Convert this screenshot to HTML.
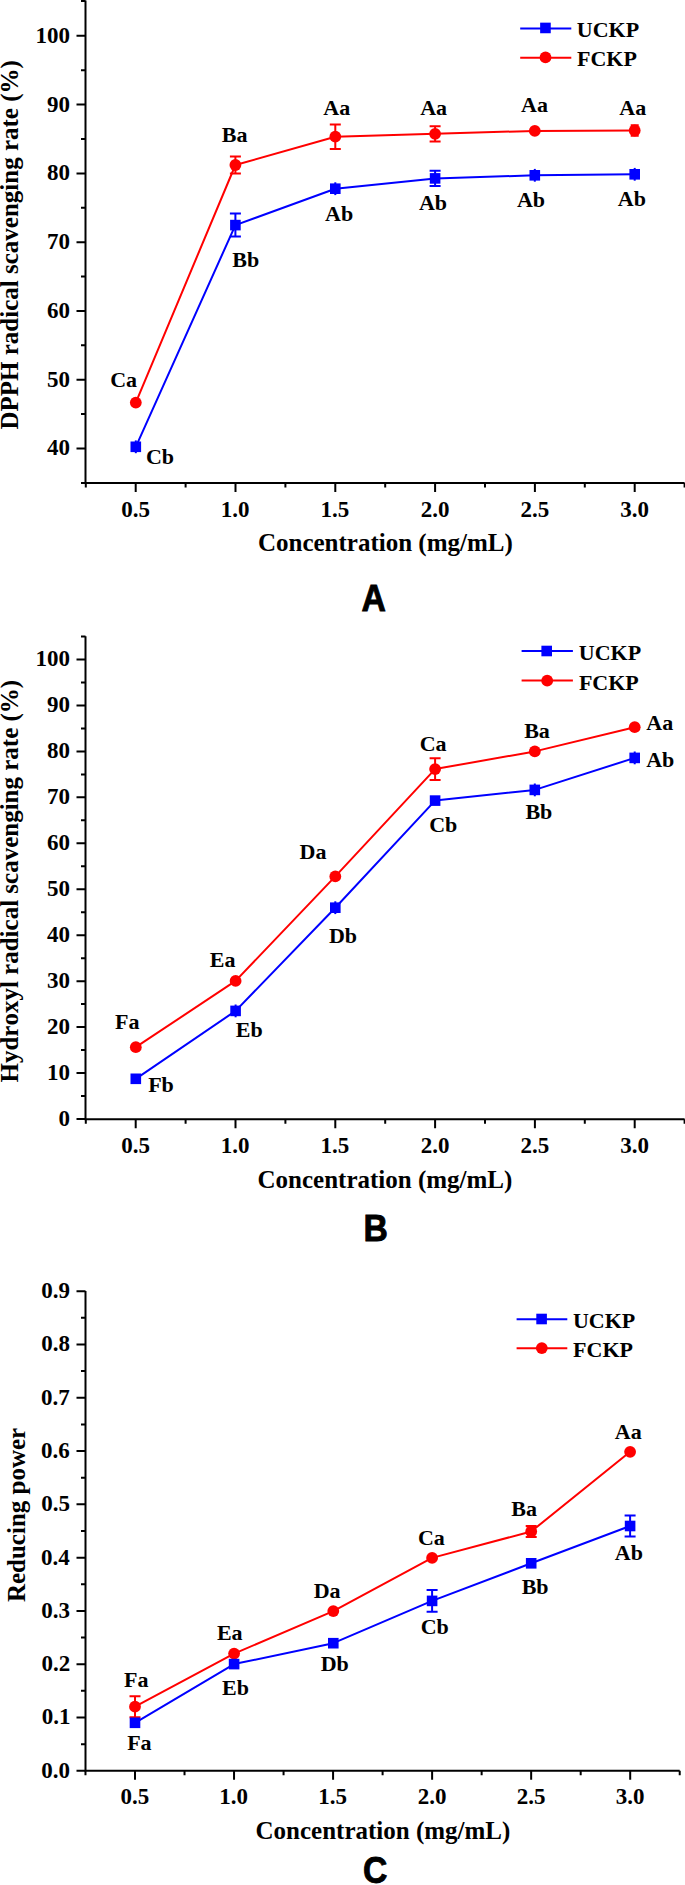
<!DOCTYPE html>
<html><head><meta charset="utf-8"><title>Antioxidant activity</title>
<style>
html,body{margin:0;padding:0;background:#fff;}
body{width:685px;height:1885px;overflow:hidden;}
svg{display:block;}
text{font-family:"Liberation Serif",serif;font-weight:bold;fill:#000;font-kerning:none;}
.tl{font-size:23px;}
.an{font-size:22px;}
.ti{font-size:25px;}
.pl{font-family:"Liberation Sans",sans-serif;font-size:37.5px;stroke:#000;stroke-width:0.9px;stroke-linejoin:miter;}
</style></head><body>
<svg width="685" height="1885" viewBox="0 0 685 1885">
<rect width="685" height="1885" fill="#fff"/>
<path d="M85.5 0.5V484M84.5 483H684.6" stroke="#000" stroke-width="2" fill="none" stroke-linecap="butt"/>
<path d="M81 482.9H85.5M76.5 448.51H85.5M81 414.12H85.5M76.5 379.73H85.5M81 345.34H85.5M76.5 310.95H85.5M81 276.56H85.5M76.5 242.17H85.5M81 207.78H85.5M76.5 173.39H85.5M81 139H85.5M76.5 104.61H85.5M81 70.22H85.5M76.5 35.83H85.5M81 1H85.5M85.8 483V487.5M135.7 483V492M185.6 483V487.5M235.5 483V492M285.4 483V487.5M335.3 483V492M385.2 483V487.5M435.1 483V492M485 483V487.5M534.9 483V492M584.8 483V487.5M634.7 483V492M684.6 483V487.5" stroke="#000" stroke-width="2" fill="none"/>
<text x="47.08" y="455.45" class="tl">40</text>
<text x="47.08" y="386.67" class="tl">50</text>
<text x="47.08" y="317.89" class="tl">60</text>
<text x="47.08" y="249.11" class="tl">70</text>
<text x="47.08" y="180.33" class="tl">80</text>
<text x="47.08" y="111.55" class="tl">90</text>
<text x="35.58" y="42.77" class="tl">100</text>
<text x="121.31" y="517.29" class="tl">0.5</text>
<text x="220.64" y="517.29" class="tl">1.0</text>
<text x="320.43" y="517.23" class="tl">1.5</text>
<text x="420.68" y="517.29" class="tl">2.0</text>
<text x="520.46" y="517.25" class="tl">2.5</text>
<text x="620.33" y="517.29" class="tl">3.0</text>
<text x="257.93" y="551.3" class="ti">Concentration (mg/mL)</text>
<text transform="translate(17.6 429.56) rotate(-90)" class="ti">DPPH radical scavenging rate (%)</text>
<polyline points="135.8,402.6 235.4,165 335.3,136.7 435.1,133.8 534.8,130.9 634.7,130.5" stroke="#ff0000" stroke-width="2" fill="none" stroke-linejoin="round"/>
<polyline points="135.8,446.8 235.4,225.1 335.3,188.7 435.1,178.4 534.8,175.3 634.7,174.3" stroke="#0000ff" stroke-width="2" fill="none" stroke-linejoin="round"/>
<circle cx="135.8" cy="402.6" r="5.9" fill="#ff0000"/>
<path d="M235.4 156.5V173.5M229.9 156.5H240.9M229.9 173.5H240.9" stroke="#ff0000" stroke-width="2" fill="none"/>
<circle cx="235.4" cy="165" r="5.9" fill="#ff0000"/>
<path d="M335.3 124.4V149M329.8 124.4H340.8M329.8 149H340.8" stroke="#ff0000" stroke-width="2" fill="none"/>
<circle cx="335.3" cy="136.7" r="5.9" fill="#ff0000"/>
<path d="M435.1 126.2V141.4M429.6 126.2H440.6M429.6 141.4H440.6" stroke="#ff0000" stroke-width="2" fill="none"/>
<circle cx="435.1" cy="133.8" r="5.9" fill="#ff0000"/>
<circle cx="534.8" cy="130.9" r="5.9" fill="#ff0000"/>
<path d="M634.7 125.3V135.7M630.7 125.3H638.7M630.7 135.7H638.7" stroke="#ff0000" stroke-width="2" fill="none"/>
<circle cx="634.7" cy="130.5" r="5.9" fill="#ff0000"/>
<path d="M135.8 440.4V453.2" stroke="#0000ff" stroke-width="2" fill="none"/>
<rect x="130.5" y="441.5" width="10.6" height="10.6" fill="#0000ff"/>
<path d="M235.4 213.6V236.6M229.9 213.6H240.9M229.9 236.6H240.9" stroke="#0000ff" stroke-width="2" fill="none"/>
<rect x="230.1" y="219.8" width="10.6" height="10.6" fill="#0000ff"/>
<path d="M335.3 182.3V195.1" stroke="#0000ff" stroke-width="2" fill="none"/>
<rect x="330" y="183.4" width="10.6" height="10.6" fill="#0000ff"/>
<path d="M435.1 170.8V186M429.6 170.8H440.6M429.6 186H440.6" stroke="#0000ff" stroke-width="2" fill="none"/>
<rect x="429.8" y="173.1" width="10.6" height="10.6" fill="#0000ff"/>
<path d="M534.8 168.9V181.7" stroke="#0000ff" stroke-width="2" fill="none"/>
<rect x="529.5" y="170" width="10.6" height="10.6" fill="#0000ff"/>
<path d="M634.7 167.9V180.7" stroke="#0000ff" stroke-width="2" fill="none"/>
<rect x="629.4" y="169" width="10.6" height="10.6" fill="#0000ff"/>
<text x="110.24" y="386.88" class="an">Ca</text>
<text x="145.9" y="463.87" class="an">Cb</text>
<text x="221.85" y="142.3" class="an">Ba</text>
<text x="232.31" y="266.82" class="an">Bb</text>
<text x="323.37" y="115.25" class="an">Aa</text>
<text x="325.08" y="221.32" class="an">Ab</text>
<text x="420.17" y="114.65" class="an">Aa</text>
<text x="418.93" y="209.92" class="an">Ab</text>
<text x="521.07" y="112.35" class="an">Aa</text>
<text x="516.88" y="206.72" class="an">Ab</text>
<text x="619.27" y="114.65" class="an">Aa</text>
<text x="617.78" y="205.52" class="an">Ab</text>
<path d="M520.2 28.4H571.3" stroke="#0000ff" stroke-width="2"/>
<path d="M520.2 57.7H571.3" stroke="#ff0000" stroke-width="2"/>
<rect x="540.15" y="22.65" width="10.6" height="10.6" fill="#0000ff"/>
<circle cx="545.5" cy="57.4" r="5.9" fill="#ff0000"/>
<text x="576.85" y="36.93" class="an">UCKP</text>
<text x="577.02" y="66.23" class="an">FCKP</text>
<text transform="translate(373.7 611.1) scale(0.9 1)" x="-13.51" y="0" class="pl">A</text>
<path d="M85.5 636.3V1120.3M84.5 1119.3H684.6" stroke="#000" stroke-width="2" fill="none" stroke-linecap="butt"/>
<path d="M76.5 1119H85.5M81 1096.03H85.5M76.5 1073.05H85.5M81 1050.08H85.5M76.5 1027.1H85.5M81 1004.12H85.5M76.5 981.15H85.5M81 958.17H85.5M76.5 935.2H85.5M81 912.23H85.5M76.5 889.25H85.5M81 866.27H85.5M76.5 843.3H85.5M81 820.33H85.5M76.5 797.35H85.5M81 774.38H85.5M76.5 751.4H85.5M81 728.42H85.5M76.5 705.45H85.5M81 682.48H85.5M76.5 659.5H85.5M81 636.53H85.5M85.8 1119.3V1123.8M135.7 1119.3V1128.3M185.6 1119.3V1123.8M235.5 1119.3V1128.3M285.4 1119.3V1123.8M335.3 1119.3V1128.3M385.2 1119.3V1123.8M435.1 1119.3V1128.3M485 1119.3V1123.8M534.9 1119.3V1128.3M584.8 1119.3V1123.8M634.7 1119.3V1128.3M684.6 1119.3V1123.8" stroke="#000" stroke-width="2" fill="none"/>
<text x="58.58" y="1125.94" class="tl">0</text>
<text x="47.08" y="1079.99" class="tl">10</text>
<text x="47.08" y="1034.04" class="tl">20</text>
<text x="47.08" y="988.09" class="tl">30</text>
<text x="47.08" y="942.14" class="tl">40</text>
<text x="47.08" y="896.19" class="tl">50</text>
<text x="47.08" y="850.24" class="tl">60</text>
<text x="47.08" y="804.29" class="tl">70</text>
<text x="47.08" y="758.34" class="tl">80</text>
<text x="47.08" y="712.39" class="tl">90</text>
<text x="35.58" y="666.44" class="tl">100</text>
<text x="121.31" y="1153.09" class="tl">0.5</text>
<text x="220.64" y="1153.09" class="tl">1.0</text>
<text x="320.43" y="1153.03" class="tl">1.5</text>
<text x="420.68" y="1153.09" class="tl">2.0</text>
<text x="520.46" y="1153.05" class="tl">2.5</text>
<text x="620.33" y="1153.09" class="tl">3.0</text>
<text x="257.53" y="1188.3" class="ti">Concentration (mg/mL)</text>
<text transform="translate(17.8 1082.53) rotate(-90)" class="ti">Hydroxyl radical scavenging rate (%)</text>
<polyline points="135.8,1047.2 235.6,980.9 335.3,876.4 435.1,769.1 534.8,751.4 634.7,727.2" stroke="#ff0000" stroke-width="2" fill="none" stroke-linejoin="round"/>
<polyline points="135.8,1078.8 235.6,1010.9 335.3,907.7 435.1,800.6 534.8,789.9 634.7,757.9" stroke="#0000ff" stroke-width="2" fill="none" stroke-linejoin="round"/>
<circle cx="135.8" cy="1047.2" r="5.9" fill="#ff0000"/>
<circle cx="235.6" cy="980.9" r="5.9" fill="#ff0000"/>
<circle cx="335.3" cy="876.4" r="5.9" fill="#ff0000"/>
<path d="M435.1 758.2V780M429.6 758.2H440.6M429.6 780H440.6" stroke="#ff0000" stroke-width="2" fill="none"/>
<circle cx="435.1" cy="769.1" r="5.9" fill="#ff0000"/>
<circle cx="534.8" cy="751.4" r="5.9" fill="#ff0000"/>
<circle cx="634.7" cy="727.2" r="5.9" fill="#ff0000"/>
<rect x="130.5" y="1073.5" width="10.6" height="10.6" fill="#0000ff"/>
<path d="M235.6 1004.5V1017.3" stroke="#0000ff" stroke-width="2" fill="none"/>
<rect x="230.3" y="1005.6" width="10.6" height="10.6" fill="#0000ff"/>
<path d="M335.3 901.3V914.1" stroke="#0000ff" stroke-width="2" fill="none"/>
<rect x="330" y="902.4" width="10.6" height="10.6" fill="#0000ff"/>
<rect x="429.8" y="795.3" width="10.6" height="10.6" fill="#0000ff"/>
<path d="M534.8 783.5V796.3" stroke="#0000ff" stroke-width="2" fill="none"/>
<rect x="529.5" y="784.6" width="10.6" height="10.6" fill="#0000ff"/>
<path d="M634.7 751.5V764.3" stroke="#0000ff" stroke-width="2" fill="none"/>
<rect x="629.4" y="752.6" width="10.6" height="10.6" fill="#0000ff"/>
<text x="114.96" y="1029.05" class="an">Fa</text>
<text x="148.17" y="1092.42" class="an">Fb</text>
<text x="209.79" y="966.5" class="an">Ea</text>
<text x="235.85" y="1037.12" class="an">Eb</text>
<text x="299.53" y="859.3" class="an">Da</text>
<text x="328.89" y="942.92" class="an">Db</text>
<text x="419.74" y="750.58" class="an">Ca</text>
<text x="429.2" y="832.02" class="an">Cb</text>
<text x="524.2" y="737.5" class="an">Ba</text>
<text x="525.41" y="819.02" class="an">Bb</text>
<text x="646.32" y="730.45" class="an">Aa</text>
<text x="646.18" y="767.07" class="an">Ab</text>
<path d="M521.6 650.9H572.9" stroke="#0000ff" stroke-width="2"/>
<path d="M521.6 680.6H572.9" stroke="#ff0000" stroke-width="2"/>
<rect x="541.4" y="645.7" width="10.6" height="10.6" fill="#0000ff"/>
<circle cx="547.2" cy="680.7" r="5.9" fill="#ff0000"/>
<text x="578.75" y="659.93" class="an">UCKP</text>
<text x="578.92" y="689.53" class="an">FCKP</text>
<text transform="translate(376 1241.1) scale(0.9 1)" x="-13.94" y="0" class="pl">B</text>
<path d="M85.5 1290.9V1771.7M84.5 1770.7H679.7" stroke="#000" stroke-width="2" fill="none" stroke-linecap="butt"/>
<path d="M76.5 1770.8H85.5M81 1744.15H85.5M76.5 1717.51H85.5M81 1690.87H85.5M76.5 1664.22H85.5M81 1637.58H85.5M76.5 1610.93H85.5M81 1584.28H85.5M76.5 1557.64H85.5M81 1530.99H85.5M76.5 1504.35H85.5M81 1477.7H85.5M76.5 1451.06H85.5M81 1424.41H85.5M76.5 1397.77H85.5M81 1371.12H85.5M76.5 1344.48H85.5M81 1317.84H85.5M76.5 1291.19H85.5M85.48 1770.7V1775.2M135 1770.7V1779.7M184.52 1770.7V1775.2M234.04 1770.7V1779.7M283.56 1770.7V1775.2M333.08 1770.7V1779.7M382.6 1770.7V1775.2M432.12 1770.7V1779.7M481.64 1770.7V1775.2M531.16 1770.7V1779.7M580.68 1770.7V1775.2M630.2 1770.7V1779.7M679.72 1770.7V1775.2" stroke="#000" stroke-width="2" fill="none"/>
<text x="41.33" y="1777.69" class="tl">0.0</text>
<text x="41.64" y="1724.4" class="tl">0.1</text>
<text x="41.44" y="1671.11" class="tl">0.2</text>
<text x="41.24" y="1617.82" class="tl">0.3</text>
<text x="40.88" y="1564.53" class="tl">0.4</text>
<text x="41.29" y="1511.24" class="tl">0.5</text>
<text x="41.12" y="1457.95" class="tl">0.6</text>
<text x="41.01" y="1404.66" class="tl">0.7</text>
<text x="41.21" y="1351.37" class="tl">0.8</text>
<text x="41.28" y="1298.08" class="tl">0.9</text>
<text x="120.61" y="1804.39" class="tl">0.5</text>
<text x="219.18" y="1804.39" class="tl">1.0</text>
<text x="318.21" y="1804.33" class="tl">1.5</text>
<text x="417.7" y="1804.39" class="tl">2.0</text>
<text x="516.72" y="1804.35" class="tl">2.5</text>
<text x="615.83" y="1804.39" class="tl">3.0</text>
<text x="255.53" y="1839.2" class="ti">Concentration (mg/mL)</text>
<text transform="translate(25.4 1602.1) rotate(-90)" class="ti">Reducing power</text>
<polyline points="135,1706.7 234.1,1653.6 333.3,1611.1 432.1,1557.9 531.2,1531.5 630.1,1451.8" stroke="#ff0000" stroke-width="2" fill="none" stroke-linejoin="round"/>
<polyline points="135,1722.8 234.1,1664.1 333.3,1643.2 432.1,1600.9 531.2,1563.3 630.1,1526" stroke="#0000ff" stroke-width="2" fill="none" stroke-linejoin="round"/>
<path d="M135 1696.2V1717.2M129.5 1696.2H140.5M129.5 1717.2H140.5" stroke="#ff0000" stroke-width="2" fill="none"/>
<circle cx="135" cy="1706.7" r="5.9" fill="#ff0000"/>
<circle cx="234.1" cy="1653.6" r="5.9" fill="#ff0000"/>
<circle cx="333.3" cy="1611.1" r="5.9" fill="#ff0000"/>
<circle cx="432.1" cy="1557.9" r="5.9" fill="#ff0000"/>
<path d="M531.2 1526V1537M525.7 1526H536.7M525.7 1537H536.7" stroke="#ff0000" stroke-width="2" fill="none"/>
<circle cx="531.2" cy="1531.5" r="5.9" fill="#ff0000"/>
<circle cx="630.1" cy="1451.8" r="5.9" fill="#ff0000"/>
<rect x="129.7" y="1717.5" width="10.6" height="10.6" fill="#0000ff"/>
<rect x="228.8" y="1658.8" width="10.6" height="10.6" fill="#0000ff"/>
<rect x="328" y="1637.9" width="10.6" height="10.6" fill="#0000ff"/>
<path d="M432.1 1590.1V1611.7M426.6 1590.1H437.6M426.6 1611.7H437.6" stroke="#0000ff" stroke-width="2" fill="none"/>
<rect x="426.8" y="1595.6" width="10.6" height="10.6" fill="#0000ff"/>
<rect x="525.9" y="1558" width="10.6" height="10.6" fill="#0000ff"/>
<path d="M630.1 1515.5V1536.5M624.6 1515.5H635.6M624.6 1536.5H635.6" stroke="#0000ff" stroke-width="2" fill="none"/>
<rect x="624.8" y="1520.7" width="10.6" height="10.6" fill="#0000ff"/>
<text x="124.11" y="1687.35" class="an">Fa</text>
<text x="127.16" y="1750.15" class="an">Fa</text>
<text x="216.89" y="1639.75" class="an">Ea</text>
<text x="222.05" y="1694.62" class="an">Eb</text>
<text x="313.68" y="1597.5" class="an">Da</text>
<text x="320.64" y="1671.47" class="an">Db</text>
<text x="417.94" y="1544.63" class="an">Ca</text>
<text x="420.7" y="1634.32" class="an">Cb</text>
<text x="511.35" y="1515.5" class="an">Ba</text>
<text x="521.66" y="1594.47" class="an">Bb</text>
<text x="614.87" y="1439.45" class="an">Aa</text>
<text x="614.83" y="1559.52" class="an">Ab</text>
<path d="M516.6 1319.3H567.3" stroke="#0000ff" stroke-width="2"/>
<path d="M516.6 1348.2H567.3" stroke="#ff0000" stroke-width="2"/>
<rect x="536.3" y="1313.7" width="10.6" height="10.6" fill="#0000ff"/>
<circle cx="541.8" cy="1348.1" r="5.9" fill="#ff0000"/>
<text x="572.95" y="1327.83" class="an">UCKP</text>
<text x="573.12" y="1357.23" class="an">FCKP</text>
<text transform="translate(375.4 1882.56) scale(0.9 1)" x="-13.8" y="0" class="pl">C</text>
</svg>
</body></html>
